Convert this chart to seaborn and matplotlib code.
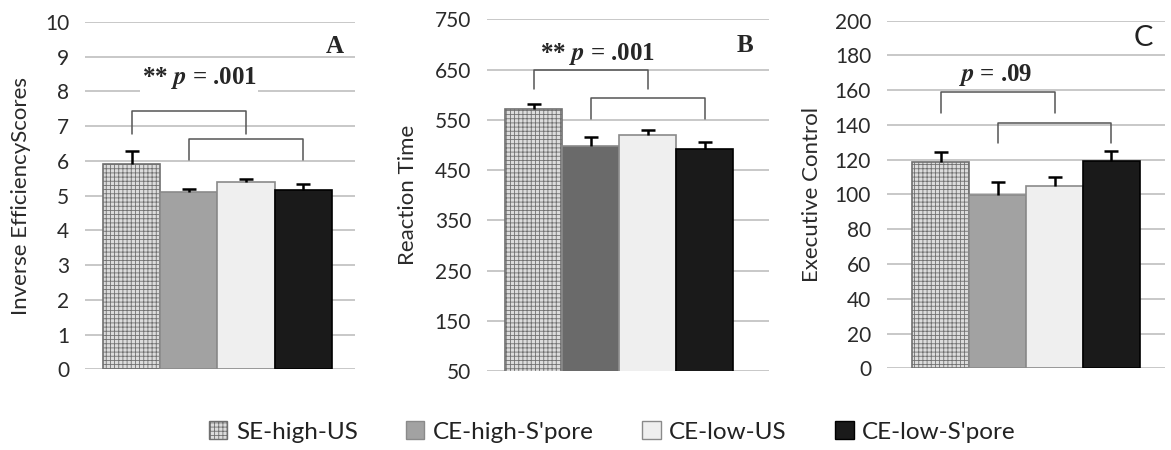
import matplotlib.pyplot as plt
import seaborn as sns
import pandas as pd
from matplotlib.patches import Patch

# groups shown in every panel
groups = ["SE-high-US", "CE-high-S'pore", "CE-low-US", "CE-low-S'pore"]

# panel A: inverse efficiency scores
ies_mean = [5.92, 5.11, 5.38, 5.15]
ies_err = [0.38, 0.09, 0.10, 0.18]

# panel B: reaction time
rt_mean = [572, 497, 519, 491]
rt_err = [10, 18, 11, 15]

# panel C: executive control
ec_mean = [118.5, 99.5, 105, 119]
ec_err = [6, 7.5, 5, 6]

bar_colors = ['#dcdcdc', '#a2a2a2', '#efefef', '#1a1a1a']
edge_colors = ['#707070', '#8a8a8a', '#8a8a8a', '#000000']

sns.set_style('white')
plt.rcParams['font.family'] = ['Lato', 'DejaVu Sans']
plt.rcParams['hatch.color'] = '#b0b0b0'
plt.rcParams['hatch.linewidth'] = 0.6
plt.rcParams['mathtext.fontset'] = 'stix'

fig = plt.figure(figsize=(11.71, 4.5), dpi=100)

panels = [
    dict(rect=[0.0726, 0.1793, 0.2306, 0.7718], mean=ies_mean, err=ies_err,
         ylim=(0, 10), ticks=list(range(0, 11)), xlim=(-0.82, 3.91),
         ylabel='Inverse EfficiencyScores', labx=-0.20,
         colors=['#dcdcdc', '#a2a2a2', '#efefef', '#1a1a1a'],
         b1=(7.45, 6.78), b2=(6.64, 6.04), txt='** ', ptxt=r'$\mathbfit{p}$ = .001',
         tpos=(1.18, 8.4), letter='A', lpos=(3.56, 9.3), serif=True),
    dict(rect=[0.4159, 0.1756, 0.2408, 0.7815], mean=rt_mean, err=rt_err,
         ylim=(50, 750), ticks=list(range(50, 751, 100)), xlim=(-0.82, 4.13),
         ylabel='Reaction Time', labx=-0.245,
         colors=['#dcdcdc', '#6a6a6a', '#efefef', '#1a1a1a'],
         b1=(650, 611), b2=(593, 552), txt='** ', ptxt=r'$\mathbfit{p}$ = .001',
         tpos=(1.12, 680), letter='B', lpos=(3.7, 697), serif=True),
    dict(rect=[0.7575, 0.1816, 0.2374, 0.7724], mean=ec_mean, err=ec_err,
         ylim=(0, 200), ticks=list(range(0, 201, 20)), xlim=(-0.94, 3.94),
         ylabel='Executive Control', labx=-0.235,
         colors=['#dcdcdc', '#a2a2a2', '#efefef', '#1a1a1a'],
         b1=(158.8, 147), b2=(141.3, 129.5), txt='', ptxt=r'$\mathbfit{p}$ = .09',
         tpos=(0.96, 168.8), letter='C', lpos=(3.56, 190), serif=False),
]

for p in panels:
    ax = fig.add_axes(p['rect'])
    df = pd.DataFrame({'group': groups, 'value': p['mean']})
    sns.barplot(data=df, x='group', y='value', hue='group', order=groups,
                hue_order=groups, palette=p['colors'], width=1, legend=False,
                ax=ax, linewidth=1.2, saturation=1)
    for patch, ec in zip(ax.patches, edge_colors):
        patch.set_edgecolor(ec)
    ax.patches[0].set_hatch('++++')
    _, caps, _ = ax.errorbar(range(len(groups)), p['mean'], yerr=[[0] * 4, p['err']],
                             fmt='none', ecolor='black', elinewidth=1.8, capsize=5,
                             capthick=1.8, zorder=5)
    caps[0].set_visible(False)  # only the upper cap, like the original

    ax.set_ylim(*p['ylim'])
    ax.set_xlim(*p['xlim'])
    ax.set_yticks(p['ticks'])
    ax.set_xticks([])
    ax.set_xlabel('')
    ax.yaxis.grid(True, color='#c8c8c8', lw=1.4)
    ax.set_axisbelow(True)
    for s in ax.spines.values():
        s.set_visible(False)
    ax.tick_params(left=False, bottom=False, labelsize=15, labelcolor='#2a2a2a', pad=8)
    ax.set_ylabel(p['ylabel'], fontsize=16, color='#2a2a2a')
    ax.yaxis.set_label_coords(p['labx'], 0.5)

    # significance brackets
    top1, leg1 = p['b1']
    ax.plot([0, 0, 2, 2], [leg1, top1, top1, leg1], color='#555555', lw=1.1)
    top2, leg2 = p['b2']
    ax.plot([1, 1, 3, 3], [leg2, top2, top2, leg2], color='#555555', lw=1.1)

    ax.text(p['tpos'][0], p['tpos'][1], p['txt'] + p['ptxt'], ha='center', va='center',
            fontsize=18, fontweight='bold', family='Liberation Serif',
            bbox=dict(facecolor='white', edgecolor='none', pad=1))
    if p['serif']:
        ax.text(*p['lpos'], p['letter'], ha='center', va='center', fontsize=18,
                fontweight='bold', family='Liberation Serif')
    else:
        ax.text(*p['lpos'], p['letter'], ha='center', va='center', fontsize=21,
                color='#222222')

handles = [Patch(facecolor=c, edgecolor=e, hatch=h, label=g)
           for c, e, h, g in zip(bar_colors, edge_colors, ['++++', None, None, None], groups)]
fig.legend(handles=handles, loc='center', bbox_to_anchor=(0.523, 0.04), ncol=4,
           frameon=False, fontsize=17.5, handlelength=0.75, handleheight=0.75,
           handletextpad=0.35, columnspacing=2.0, labelcolor='#222222')

fig.savefig('out.png', dpi=100)
